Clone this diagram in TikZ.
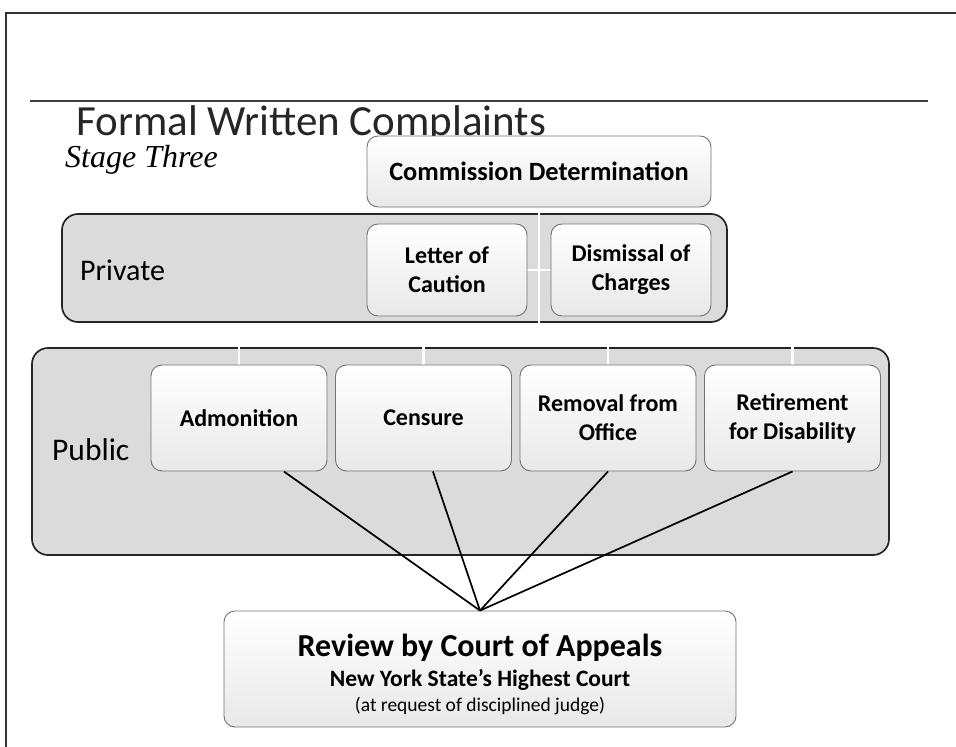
\documentclass[tikz,border=0pt]{standalone}
\usepackage{fontspec}
\setmainfont{Carlito}
\newfontfamily\stagefont{Liberation Serif}
\usetikzlibrary{positioning}
\pgfdeclarelayer{back}
\pgfdeclarelayer{wires}
\pgfsetlayers{back,wires,main}
\tikzset{
    groupbox/.style={draw=black!85, line width=1.7pt, rounded corners=16pt, fill=black!14, inner sep=0pt},
    itembox/.style={draw=black!55, line width=0.9pt, rounded corners=11pt, top color=white, bottom color=black!9, inner sep=0pt, align=center, font=\bfseries\fontsize{24}{29}\selectfont},
    grouplabel/.style={anchor=base west, inner sep=0pt, font=\fontsize{30}{36}\selectfont},
    wire/.style={draw=white, line width=2.2pt},
    appeal/.style={draw=black, line width=1.7pt},
}

\begin{document}
\begin{tikzpicture}[x=1pt, y=-1pt]
    \useasboundingbox (0,0) rectangle (956,747);
    % slide frame and title rule
    \draw[line width=2pt, black!80] (5,13) -- (956,13) (6,13) -- (6,747);
    \draw[line width=1.4pt, black!75] (30,101) -- (928,101);
    \node[anchor=base west, inner sep=0pt, text depth=2pt, text=black!85, font=\fontsize{43}{46}\selectfont] (title) at (76,135) {Formal Written Complaints};
    \node[anchor=base west, inner sep=0pt, text height=22pt, font=\stagefont\itshape\fontsize{32}{34}\selectfont] (stage) at (65,167) {Stage Three};

    % outcomes
    \node[itembox, minimum width=344pt, minimum height=71pt, font=\bfseries\fontsize{26.4}{30}\selectfont] (com) at (539,171.5) {Commission Determination};
    \node[itembox, minimum width=160pt, minimum height=92pt] (letter) at (447,270) {Letter of\\Caution};
    \node[itembox, minimum width=160pt, minimum height=92pt] (dism) at (631,270) {Dismissal of\\Charges};
    \node[itembox, minimum width=176pt, minimum height=106pt] (adm) at (239,418) {Admonition};
    \node[itembox, minimum width=176pt, minimum height=106pt] (cens) at (423.5,418) {Censure};
    \node[itembox, minimum width=176pt, minimum height=106pt] (remov) at (608,418) {Removal from\\Office};
    \node[itembox, minimum width=176pt, minimum height=106pt] (retire) at (792.5,418) {Retirement\\for Disability};
    \node[itembox, minimum width=512pt, minimum height=116pt, font=\bfseries\fontsize{32}{30}\selectfont] (review) at (480,669)
        {\rule{0pt}{33pt}Review by Court of Appeals\\\fontsize{23.5}{30}\selectfont New York State's Highest Court\\[-5pt]\mdseries\fontsize{19.5}{30}\selectfont (at request of disciplined judge)};

    % groups
    \begin{pgfonlayer}{back}
        \node[groupbox, minimum width=665pt, minimum height=108pt] (private) at (394.5,268) {};
        \node[groupbox, minimum width=857pt, minimum height=207pt] (public) at (460.5,451.5) {};
    \end{pgfonlayer}
    \node[grouplabel] (privlbl) at (80,280) {Private};
    \node[grouplabel, font=\fontsize{31.5}{36}\selectfont] (publbl) at (52,460) {Public};

    % chart wires
    \coordinate (bus) at (539,344);
    \begin{pgfonlayer}{wires}
        \draw[wire] (com.south) -- (bus);
        \draw[wire] (letter.east) -- (dism.west);
        \foreach \n in {adm, cens, remov, retire}
            \draw[wire] (bus -| \n.north) -- (\n.north);
    \end{pgfonlayer}

    % appeals
    \draw[appeal] (adm.-50) -- (review.north);
    \draw[appeal] (cens.-80) -- (review.north);
    \draw[appeal] (remov.south) -- (review.north);
    \draw[appeal] (retire.south) -- (review.north);
\end{tikzpicture}
\end{document}
